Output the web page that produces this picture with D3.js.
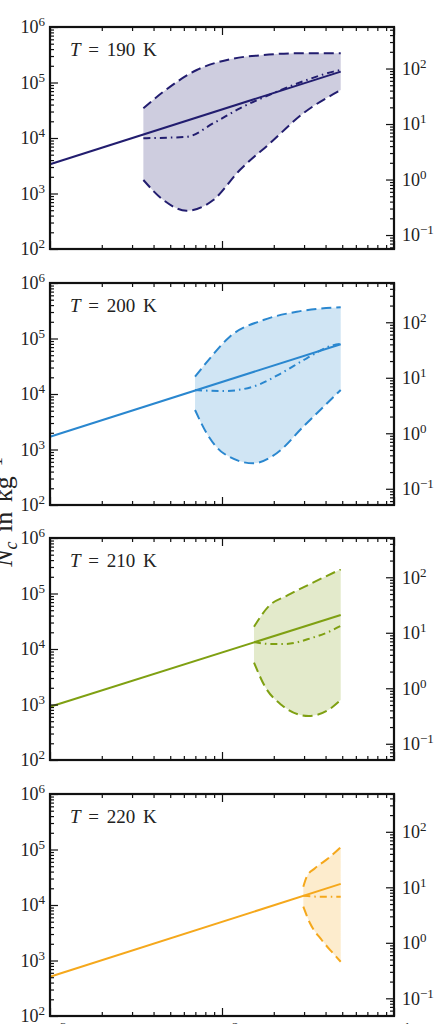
<!DOCTYPE html>
<html>
<head>
<meta charset="utf-8">
<script src="https://cdn.jsdelivr.net/npm/d3@7"></script>
<style>
  body { margin: 0; background: #fff; }
  svg text { font-family: "Liberation Serif", "DejaVu Serif", serif; fill: #222; }
</style>
</head>
<body>
<div id="chart"></div>
<script>
// temperatures and colours of the four panels
const temps = [190, 200, 210, 220];
const colors = ['#221d6f', '#2a87cf', '#7fa012', '#f5a81c'];
// factor from per-kg to the right-hand axis unit (air density)
const densityFactor = [5.6e-4, 5.1e-4, 5.1e-4, 4.8e-4];

const xTicks = [1e-3, 1e-2, 1e-1];
const yTicks = [1e2, 1e3, 1e4, 1e5, 1e6];
const rTicks = [1e-1, 1e0, 1e1, 1e2];

// [w, N] pairs
const solid190 = [[0.001, 3360], [0.049, 1.57e5]];
const upper190 = [[0.00349, 3.43e4], [0.00456, 6.8e4], [0.00713, 1.68e5], [0.0111, 2.62e5], [0.0174, 3.13e5], [0.0272, 3.36e5], [0.049, 3.36e5]];
const lower190 = [[0.00349, 1750], [0.00456, 764], [0.00623, 490], [0.0089, 764], [0.0127, 2650], [0.019, 8030], [0.0297, 2.79e4], [0.049, 7.3e4]];
const median190 = [[0.00349, 9900], [0.00623, 1.05e4], [0.0089, 1.84e4], [0.0127, 3.43e4], [0.0208, 6.8e4], [0.0311, 1.11e5], [0.0444, 1.57e5], [0.049, 1.68e5]];

const solid200 = [[0.001, 1700], [0.049, 7.9e4]];
const upper200 = [[0.00697, 2.05e4], [0.00851, 4.4e4], [0.0111, 1.08e5], [0.0174, 2.15e5], [0.0272, 3.04e5], [0.049, 3.65e5]];
const lower200 = [[0.00697, 5150], [0.00815, 1960], [0.0102, 855], [0.0152, 564], [0.0208, 855], [0.0297, 2580], [0.049, 1.18e4]];
const median200 = [[0.00697, 1.18e4], [0.0102, 1.13e4], [0.0152, 1.36e4], [0.0217, 2.29e4], [0.0311, 4.4e4], [0.0444, 7.6e4], [0.049, 8.0e4]];

const solid210 = [[0.001, 910], [0.049, 4.1e4]];
const upper210 = [[0.01535, 2.52e4], [0.0186, 5.8e4], [0.0243, 9.4e4], [0.0332, 1.53e5], [0.049, 2.73e5]];
const lower210 = [[0.01535, 5670], [0.0178, 2090], [0.0222, 980], [0.0318, 621], [0.0415, 796], [0.049, 1205]];
const median210 = [[0.01535, 1.34e4], [0.019, 1.23e4], [0.0233, 1.23e4], [0.0332, 1.58e4], [0.0415, 2.02e4], [0.049, 2.6e4]];

const solid220 = [[0.001, 510], [0.049, 2.4e4]];
const upper220 = [[0.0297, 2.14e4], [0.0311, 3.24e4], [0.0347, 4.58e4], [0.0415, 6.94e4], [0.049, 1.1e5]];
const lower220 = [[0.0297, 9320], [0.0325, 4680], [0.038, 2340], [0.0434, 1440], [0.049, 950]];
const median220 = [[0.0297, 1.47e4], [0.0371, 1.41e4], [0.049, 1.41e4]];

const panels = [
  { solid: solid190, upper: upper190, lower: lower190, median: median190 },
  { solid: solid200, upper: upper200, lower: lower200, median: median200 },
  { solid: solid210, upper: upper210, lower: lower210, median: median210 },
  { solid: solid220, upper: upper220, lower: lower220, median: median220 }
];

const W = 435, H = 1024;
const left = 50, right = 394;
const tops = [27, 283, 538, 794];
const ph = 222;
const fontSize = 18;

const svg = d3.select('#chart').append('svg').attr('width', W).attr('height', H);

const x = d3.scaleLog().domain([1e-3, 1e-1]).range([left, right]);

function minorTicks(lo, hi) {
  const out = [];
  for (let e = Math.floor(Math.log10(lo)); e < Math.ceil(Math.log10(hi)); e++) {
    for (let k = 2; k <= 9; k++) {
      const v = k * Math.pow(10, e);
      if (v > lo && v < hi) out.push(v);
    }
  }
  return out;
}

function powLabel(sel) {
  sel.each(function(d) {
    const t = d3.select(this).text(null);
    const e = Math.round(Math.log10(d));
    t.append('tspan').text('10');
    t.append('tspan').attr('dy', -7).attr('font-size', 13).text(e < 0 ? '\u2212' + (-e) : e);
  });
}

function styleAxis(g) {
  g.select('.domain').remove();
  g.selectAll('.tick line').attr('stroke', '#111').attr('stroke-width', 1.2);
  g.selectAll('.tick text').attr('font-size', fontSize).attr('fill', '#222')
    .attr('font-family', '"Liberation Serif", serif');
}

panels.forEach((p, i) => {
  const top = tops[i];
  const y = d3.scaleLog().domain([1e2, 1e6]).range([top + ph, top]);
  const yr = d3.scaleLog().domain([1e2 * densityFactor[i], 1e6 * densityFactor[i]]).range([top + ph, top]);
  const g = svg.append('g');
  const col = colors[i];

  const line = d3.line().x(d => x(d[0])).y(d => y(d[1])).curve(d3.curveMonotoneX);

  // filled envelope between the upper and lower curves
  const upPath = line(p.upper);
  const lowPath = line(p.lower.slice().reverse());
  g.append('path')
    .attr('d', upPath + 'L' + lowPath.slice(1) + 'Z')
    .attr('fill', col)
    .attr('fill-opacity', 0.22)
    .attr('stroke', 'none');

  g.append('path').attr('d', line(p.upper))
    .attr('fill', 'none').attr('stroke', col).attr('stroke-width', 2)
    .attr('stroke-dasharray', '10,5');
  g.append('path').attr('d', line(p.lower))
    .attr('fill', 'none').attr('stroke', col).attr('stroke-width', 2)
    .attr('stroke-dasharray', '10,5');
  g.append('path').attr('d', line(p.median))
    .attr('fill', 'none').attr('stroke', col).attr('stroke-width', 2)
    .attr('stroke-dasharray', '7,4,1.5,4');
  g.append('path').attr('d', d3.line().x(d => x(d[0])).y(d => y(d[1]))(p.solid))
    .attr('fill', 'none').attr('stroke', col).attr('stroke-width', 2);

  // axes, all ticks pointing inward
  const gl = svg.append('g').attr('transform', `translate(${left},0)`);
  gl.call(d3.axisLeft(y).tickValues(yTicks).tickSizeInner(-8).tickSizeOuter(0).tickPadding(5));
  gl.selectAll('.tick text').call(powLabel);
  styleAxis(gl);
  gl.append('g').call(d3.axisLeft(y).tickValues(minorTicks(1e2, 1e6)).tickSizeInner(-4).tickSizeOuter(0).tickFormat(''))
    .call(styleAxis);

  const gr = svg.append('g').attr('transform', `translate(${right},0)`);
  gr.call(d3.axisRight(yr).tickValues(rTicks).tickSizeInner(-8).tickSizeOuter(0).tickPadding(8));
  gr.selectAll('.tick text').call(powLabel);
  styleAxis(gr);
  gr.append('g').call(d3.axisRight(yr).tickValues(minorTicks(yr.domain()[0], yr.domain()[1])).tickSizeInner(-4).tickSizeOuter(0).tickFormat(''))
    .call(styleAxis);

  const gb = svg.append('g').attr('transform', `translate(0,${top + ph})`);
  gb.call(d3.axisBottom(x).tickValues(xTicks).tickSizeInner(-8).tickSizeOuter(0).tickPadding(9)
    .tickFormat(i === 3 ? null : ''));
  if (i === 3) gb.selectAll('.tick text').call(powLabel);
  styleAxis(gb);
  gb.append('g').call(d3.axisBottom(x).tickValues(minorTicks(1e-3, 1e-1)).tickSizeInner(-4).tickSizeOuter(0).tickFormat(''))
    .call(styleAxis);

  const gt = svg.append('g').attr('transform', `translate(0,${top})`);
  gt.call(d3.axisTop(x).tickValues(xTicks).tickSizeInner(-8).tickSizeOuter(0).tickFormat(''));
  styleAxis(gt);
  gt.append('g').call(d3.axisTop(x).tickValues(minorTicks(1e-3, 1e-1)).tickSizeInner(-4).tickSizeOuter(0).tickFormat(''))
    .call(styleAxis);

  // frame
  svg.append('rect')
    .attr('x', left).attr('y', top).attr('width', right - left).attr('height', ph)
    .attr('fill', 'none').attr('stroke', '#111').attr('stroke-width', 2.2);

  // panel title
  const t = svg.append('text').attr('x', 70).attr('y', top + 29)
    .attr('font-size', 19).attr('word-spacing', 3);
  t.append('tspan').attr('font-style', 'italic').text('T');
  t.append('tspan').text(' = ' + temps[i] + ' K');
});

// y label, partly clipped by the left edge as in the original
const yl = svg.append('text')
  .attr('transform', 'translate(12,512) rotate(-90)')
  .attr('text-anchor', 'middle')
  .attr('font-size', 26)
  .attr('word-spacing', 3);
yl.append('tspan').attr('font-style', 'italic').text('N');
yl.append('tspan').attr('font-style', 'italic').attr('font-size', 18).attr('dy', 5).text('c');
yl.append('tspan').attr('dy', -5).text(' in kg');
yl.append('tspan').attr('font-size', 18).attr('dy', -10).text('\u22121');
</script>
</body>
</html>
